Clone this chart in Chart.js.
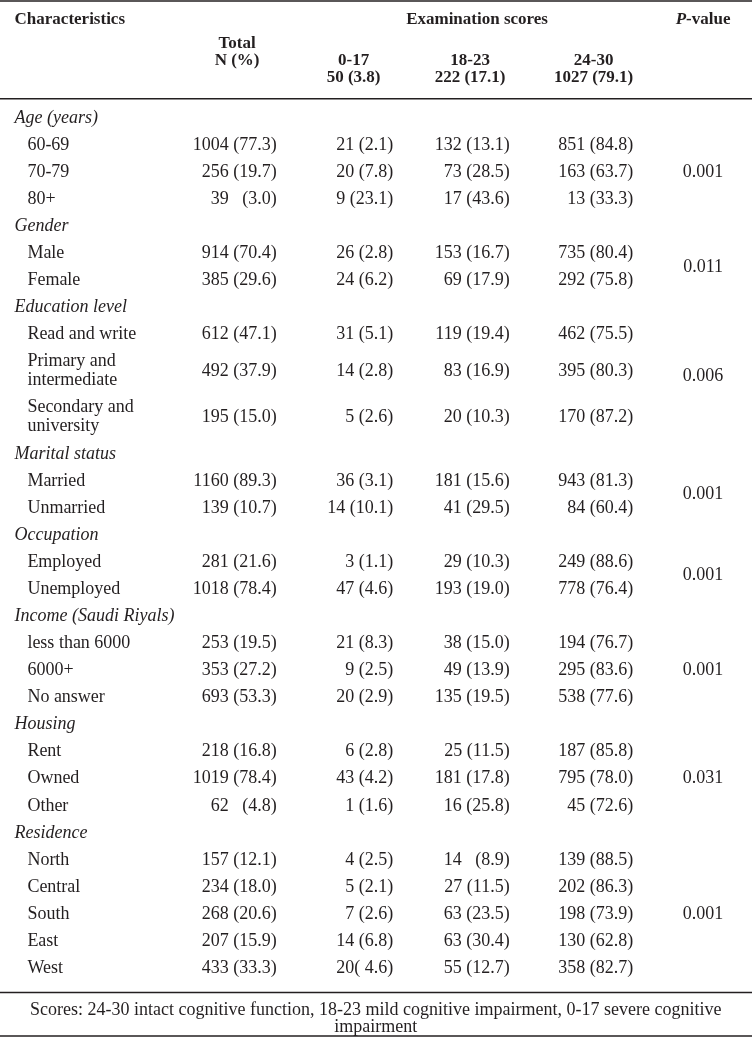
<!DOCTYPE html>
<html>
<head>
<meta charset="utf-8">
<script src="https://cdn.jsdelivr.net/npm/chart.js"></script>
<style>
  html, body { margin: 0; padding: 0; background: #fff; }
  canvas { display: block; }
</style>
</head>
<body>
<canvas id="tabela" width="752" height="1037"></canvas>
<script>
// ─── DADOS ───
var grupos = ['Age (years)', 'Gender', 'Education level', 'Marital status', 'Occupation',
  'Income (Saudi Riyals)', 'Housing', 'Residence'];
var pValores = ['0.001', '0.011', '0.006', '0.001', '0.001', '0.001', '0.031', '0.001'];

var itens = ['60-69', '70-79', '80+',
  'Male', 'Female',
  'Read and write', 'Primary and\nintermediate', 'Secondary and\nuniversity',
  'Married', 'Unmarried',
  'Employed', 'Unemployed',
  'less than 6000', '6000+', 'No answer',
  'Rent', 'Owned', 'Other',
  'North', 'Central', 'South', 'East', 'West'];
var itemGrupo = [0, 0, 0, 1, 1, 2, 2, 2, 3, 3, 4, 4, 5, 5, 5, 6, 6, 6, 7, 7, 7, 7, 7];

var colTotal = ['1004 (77.3)', '256 (19.7)', '39   (3.0)',
  '914 (70.4)', '385 (29.6)',
  '612 (47.1)', '492 (37.9)', '195 (15.0)',
  '1160 (89.3)', '139 (10.7)',
  '281 (21.6)', '1018 (78.4)',
  '253 (19.5)', '353 (27.2)', '693 (53.3)',
  '218 (16.8)', '1019 (78.4)', '62   (4.8)',
  '157 (12.1)', '234 (18.0)', '268 (20.6)', '207 (15.9)', '433 (33.3)'];
var colGrave = ['21 (2.1)', '20 (7.8)', '9 (23.1)',
  '26 (2.8)', '24 (6.2)',
  '31 (5.1)', '14 (2.8)', '5 (2.6)',
  '36 (3.1)', '14 (10.1)',
  '3 (1.1)', '47 (4.6)',
  '21 (8.3)', '9 (2.5)', '20 (2.9)',
  '6 (2.8)', '43 (4.2)', '1 (1.6)',
  '4 (2.5)', '5 (2.1)', '7 (2.6)', '14 (6.8)', '20( 4.6)'];
var colLeve = ['132 (13.1)', '73 (28.5)', '17 (43.6)',
  '153 (16.7)', '69 (17.9)',
  '119 (19.4)', '83 (16.9)', '20 (10.3)',
  '181 (15.6)', '41 (29.5)',
  '29 (10.3)', '193 (19.0)',
  '38 (15.0)', '49 (13.9)', '135 (19.5)',
  '25 (11.5)', '181 (17.8)', '16 (25.8)',
  '14   (8.9)', '27 (11.5)', '63 (23.5)', '63 (30.4)', '55 (12.7)'];
var colIntacto = ['851 (84.8)', '163 (63.7)', '13 (33.3)',
  '735 (80.4)', '292 (75.8)',
  '462 (75.5)', '395 (80.3)', '170 (87.2)',
  '943 (81.3)', '84 (60.4)',
  '249 (88.6)', '778 (76.4)',
  '194 (76.7)', '295 (83.6)', '538 (77.6)',
  '187 (85.8)', '795 (78.0)', '45 (72.6)',
  '139 (88.5)', '202 (86.3)', '198 (73.9)', '130 (62.8)', '358 (82.7)'];

var faixas = ['0-17', '18-23', '24-30'];
var faixaTotais = ['50 (3.8)', '222 (17.1)', '1027 (79.1)'];
var rodape = 'Scores: 24-30 intact cognitive function, 18-23 mild cognitive impairment, 0-17 severe cognitive impairment';

// ─── LAYOUT ───
var COR = '#231f20';
var FONTE = '"Liberation Serif", "DejaVu Serif", serif';
var ENTRELINHA = 19;
var DESLOC_VALOR = 0.34;   // borda direita dos valores em relação ao centro da coluna
var colX = [1, 2, 3, 4.06, 5];   // Total, 0-17, 18-23, 24-30, P-value

// posição (em "linhas") de cada grupo / item
var slotGrupo = [], slotItem = [], slotP = [];
var pos = 0;
grupos.forEach(function(g, gi) {
  slotGrupo.push(pos);
  pos += 1;
  var primeiro = null, ultimo = null;
  itens.forEach(function(it, i) {
    if (itemGrupo[i] !== gi) return;
    var alt = it.indexOf('\n') >= 0 ? 1.7 : 1;
    slotItem[i] = pos + (alt - 1) / 2;
    if (primeiro === null) primeiro = slotItem[i];
    ultimo = slotItem[i];
    pos += alt;
  });
  slotP.push((primeiro + ultimo) / 2);
});
var fimCorpo = pos;
var linhasH = [-4.32, -0.71, fimCorpo - 0.1, fimCorpo + 1.5];

function pontos(xs, ys) {
  return ys.map(function(y, i) { return { x: Array.isArray(xs) ? xs[i] : xs, y: y }; });
}
function conjunto(xs, ys, textos, alinha, fonte, extra) {
  var ds = { data: pontos(xs, ys), textos: textos, alinha: alinha, fonte: fonte, pointRadius: 0, pointHoverRadius: 0 };
  if (extra) for (var k in extra) ds[k] = extra[k];
  return ds;
}

var fNormal = '18px ' + FONTE;
var fItalico = 'italic 18px ' + FONTE;
var fNegrito = 'bold 17px ' + FONTE;
var bandasX = colX.slice(1, 4);
var valorX = function(c) { return colX[c] + DESLOC_VALOR; };

var datasets = [
  // cabeçalho
  conjunto(-0.91, [-3.64], ['Characteristics'], 'left', fNegrito),
  conjunto(3.06, [-3.64], ['Examination scores'], 'center', fNegrito),
  conjunto(colX[4], [-3.64], ['_P_-value'], 'center', fNegrito),
  conjunto(colX[0], [-2.76, -2.12], ['Total', 'N (%)'], 'center', fNegrito),
  conjunto(bandasX, [-2.12, -2.12, -2.12], faixas, 'center', fNegrito),
  conjunto(bandasX, [-1.48, -1.48, -1.48], faixaTotais, 'center', fNegrito),
  // corpo
  conjunto(-0.91, slotGrupo, grupos, 'left', fItalico),
  conjunto(-0.80, slotItem, itens, 'left', fNormal),
  conjunto(valorX(0), slotItem, colTotal, 'right', fNormal),
  conjunto(valorX(1), slotItem, colGrave, 'right', fNormal),
  conjunto(valorX(2), slotItem, colLeve, 'right', fNormal),
  conjunto(valorX(3), slotItem, colIntacto, 'right', fNormal),
  conjunto(colX[4], slotP, pValores, 'center', fNormal),
  // rodapé
  conjunto(2.19, [fimCorpo + 0.55], [rodape], 'center', fNormal, { quebra: 720, entrelinha: 17 })
];

// desenha texto com trechos em itálico marcados por _..._
function textoMisto(ctx, txt, x, y, fonte, alinha) {
  var partes = txt.split('_');
  var fontes = partes.map(function(p, i) { return i % 2 ? 'italic ' + fonte : fonte; });
  var larg = 0;
  partes.forEach(function(p, i) { ctx.font = fontes[i]; larg += ctx.measureText(p).width; });
  var cx = alinha === 'center' ? x - larg / 2 : (alinha === 'right' ? x - larg : x);
  ctx.textAlign = 'left';
  partes.forEach(function(p, i) {
    ctx.font = fontes[i];
    ctx.fillText(p, cx, y);
    cx += ctx.measureText(p).width;
  });
}

function quebrar(ctx, txt, max) {
  var palavras = txt.split(' '), linhas = [], atual = '';
  palavras.forEach(function(w) {
    var teste = atual ? atual + ' ' + w : w;
    if (ctx.measureText(teste).width > max && atual) { linhas.push(atual); atual = w; }
    else atual = teste;
  });
  if (atual) linhas.push(atual);
  return linhas;
}

var pluginTabela = {
  id: 'tabela',
  afterDatasetsDraw: function(chart) {
    var ctx = chart.ctx, ys = chart.scales.y, area = chart.chartArea;
    ctx.save();
    ctx.strokeStyle = COR;
    ctx.lineWidth = 1.5;
    linhasH.forEach(function(s) {
      var y = ys.getPixelForValue(s);
      ctx.beginPath();
      ctx.moveTo(area.left, y);
      ctx.lineTo(area.right, y);
      ctx.stroke();
    });
    ctx.fillStyle = COR;
    ctx.textBaseline = 'middle';
    chart.data.datasets.forEach(function(ds, di) {
      var meta = chart.getDatasetMeta(di);
      meta.data.forEach(function(el, i) {
        var txt = String(ds.textos[i]);
        ctx.font = ds.fonte;
        var linhas = ds.quebra ? quebrar(ctx, txt, ds.quebra) : txt.split('\n');
        var passo = ds.entrelinha || ENTRELINHA;
        var y0 = ds.quebra ? el.y : el.y - (linhas.length - 1) * passo / 2;
        linhas.forEach(function(l, k) {
          if (l.indexOf('_') >= 0) {
            textoMisto(ctx, l, el.x, y0 + k * passo, ds.fonte, ds.alinha);
          } else {
            ctx.font = ds.fonte;
            ctx.textAlign = ds.alinha;
            ctx.fillText(l, el.x, y0 + k * passo);
          }
        });
      });
    });
    ctx.restore();
  }
};

new Chart(document.getElementById('tabela').getContext('2d'), {
  type: 'scatter',
  data: { datasets: datasets },
  options: {
    responsive: false,
    animation: false,
    events: [],
    layout: { padding: 0 },
    plugins: { legend: { display: false }, tooltip: { enabled: false } },
    scales: {
      x: { type: 'linear', display: false, min: -1.035, max: 5.42 },
      y: { type: 'linear', display: false, reverse: true, min: -4.36, max: fimCorpo + 1.54 }
    }
  },
  plugins: [pluginTabela]
});
</script>
</body>
</html>
